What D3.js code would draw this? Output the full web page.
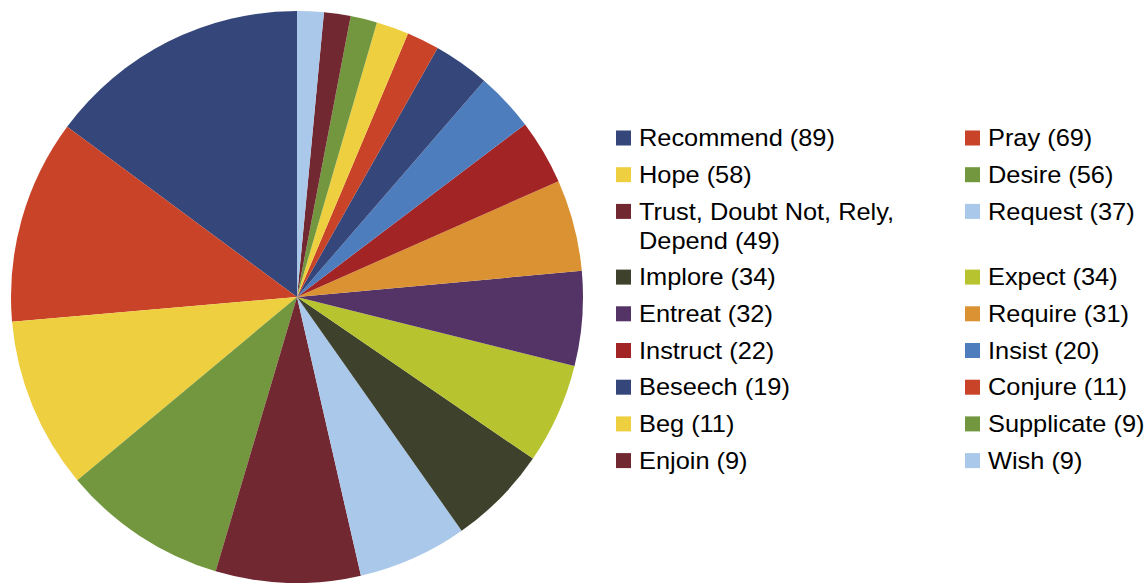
<!DOCTYPE html>
<html>
<head>
<meta charset="utf-8">
<script src="https://cdn.jsdelivr.net/npm/d3@7"></script>
<style>
  body { margin: 0; background: #fff; }
  svg text { font-family: "Liberation Sans", Arial, sans-serif; }
</style>
</head>
<body>
<script>
// datos
var labels = ["Recommend", "Pray", "Hope", "Desire", "Trust, Doubt Not, Rely, Depend",
  "Request", "Implore", "Expect", "Entreat", "Require", "Instruct", "Insist",
  "Beseech", "Conjure", "Beg", "Supplicate", "Enjoin", "Wish"];
var values = [89, 69, 58, 56, 49, 37, 34, 34, 32, 31, 22, 20, 19, 11, 11, 9, 9, 9];
var colors = ["#34467a", "#c84327", "#eecf40", "#72973e", "#722831", "#a9c8ea",
  "#3e412c", "#b8c42f", "#543366", "#db9232", "#a22424", "#4e7dbe",
  "#34467a", "#c84327", "#eecf40", "#72973e", "#722831", "#a9c8ea"];

var w = 1148;
var h = 583;

var svg = d3.select("body")
  .append("svg")
    .attr("width", w)
    .attr("height", h);

var data = labels.map(function(l, i) { return { label: l, value: values[i], color: colors[i] }; });

// sentido antihorario empezando arriba
var pie = d3.pie()
  .sort(null)
  .value(function(d) { return d.value; })
  .startAngle(0)
  .endAngle(-2 * Math.PI);

var arc = d3.arc().innerRadius(0).outerRadius(286);

svg.append("g")
  .attr("transform", "translate(297,297)")
  .selectAll("path")
  .data(pie(data))
  .enter()
    .append("path")
    .attr("d", arc)
    .attr("fill", function(d) { return d.data.color; });

// leyenda en dos columnas
var colX = [616, 965];
var rowH = 36.7;
var lineH = 29;
var legend = svg.append("g");
var y = 138;
for (var r = 0; r < Math.ceil(data.length / 2); r++) {
  var extra = 0;
  for (var c = 0; c < 2; c++) {
    var d = data[r * 2 + c];
    if (!d) continue;
    legend.append("rect")
      .attr("x", colX[c])
      .attr("y", y - 7.5)
      .attr("width", 15)
      .attr("height", 15)
      .attr("fill", d.color);
    var txt = d.label + " (" + d.value + ")";
    var lines = txt.length > 25 ? ["Trust, Doubt Not, Rely,", "Depend (" + d.value + ")"] : [txt];
    lines.forEach(function(s, k) {
      legend.append("text")
        .attr("transform", "translate(" + (colX[c] + 23) + "," + (y + k * lineH) + ") scale(1.08,1)")
        .attr("dy", "0.35em")
        .attr("font-size", 23.5)
        .attr("fill", "#000")
        .text(s);
    });
    extra = Math.max(extra, (lines.length - 1) * lineH);
  }
  y += rowH + extra;
}
</script>
</body>
</html>
